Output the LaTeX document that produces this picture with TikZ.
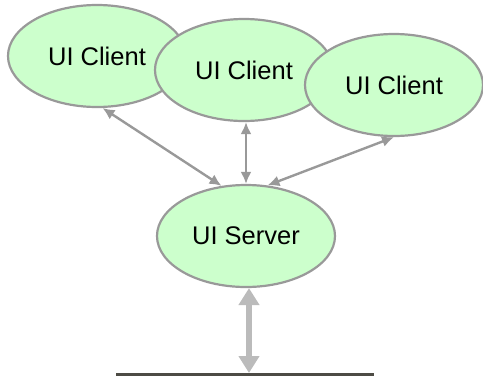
\documentclass[tikz,border=0pt]{standalone}
\usepackage{fontspec}
\setmainfont{Liberation Sans}
\usetikzlibrary{calc}
\usetikzlibrary{positioning}
\usetikzlibrary{shapes.geometric,arrows.meta}
\definecolor{bubble}{HTML}{CCFFCC}
\definecolor{rim}{HTML}{999999}
\definecolor{pipe}{HTML}{BBBBBB}
\definecolor{tray}{HTML}{4D4B45}
\tikzset{
  uinode/.style={ellipse, draw=rim, fill=bubble, line width=2.2pt,
    minimum width=178pt, minimum height=102pt, inner sep=0pt,
    font=\fontsize{25.5}{30}\selectfont},
  link/.style={draw=rim, line width=2.4pt,
    {Latex[length=12pt,width=11pt]}-{Latex[length=12pt,width=11pt]}},
  bigpipe/.style={draw=pipe, line width=6pt,
    {Triangle[length=17pt,width=20pt]}-{Triangle[length=17pt,width=20pt]}}
}

\begin{document}
\begin{tikzpicture}[x=1pt, y=-1pt]
  \useasboundingbox (0,0) rectangle (483,376);

  \node [uinode] (c1) at (97,56) {UI Client};
  \node [uinode] (c2) at (244,70) {UI Client};
  \node [uinode] (c3) at (394,85) {UI Client};
  \node [uinode] (srv) at (246,236) {UI Server};

  \draw [link] (c1.-84) -- (srv.116);
  \draw [link] (srv.north) -- (srv.north |- c2.south);
  \draw [link] (c3.south) -- (srv.67);

  % store below the server, cut off by the page edge
  \coordinate (store) at (249,373);
  \fill [tray] (116,373) rectangle (374,376);
  \draw [bigpipe] (store |- srv.south) -- (store);

\end{tikzpicture}
\end{document}
